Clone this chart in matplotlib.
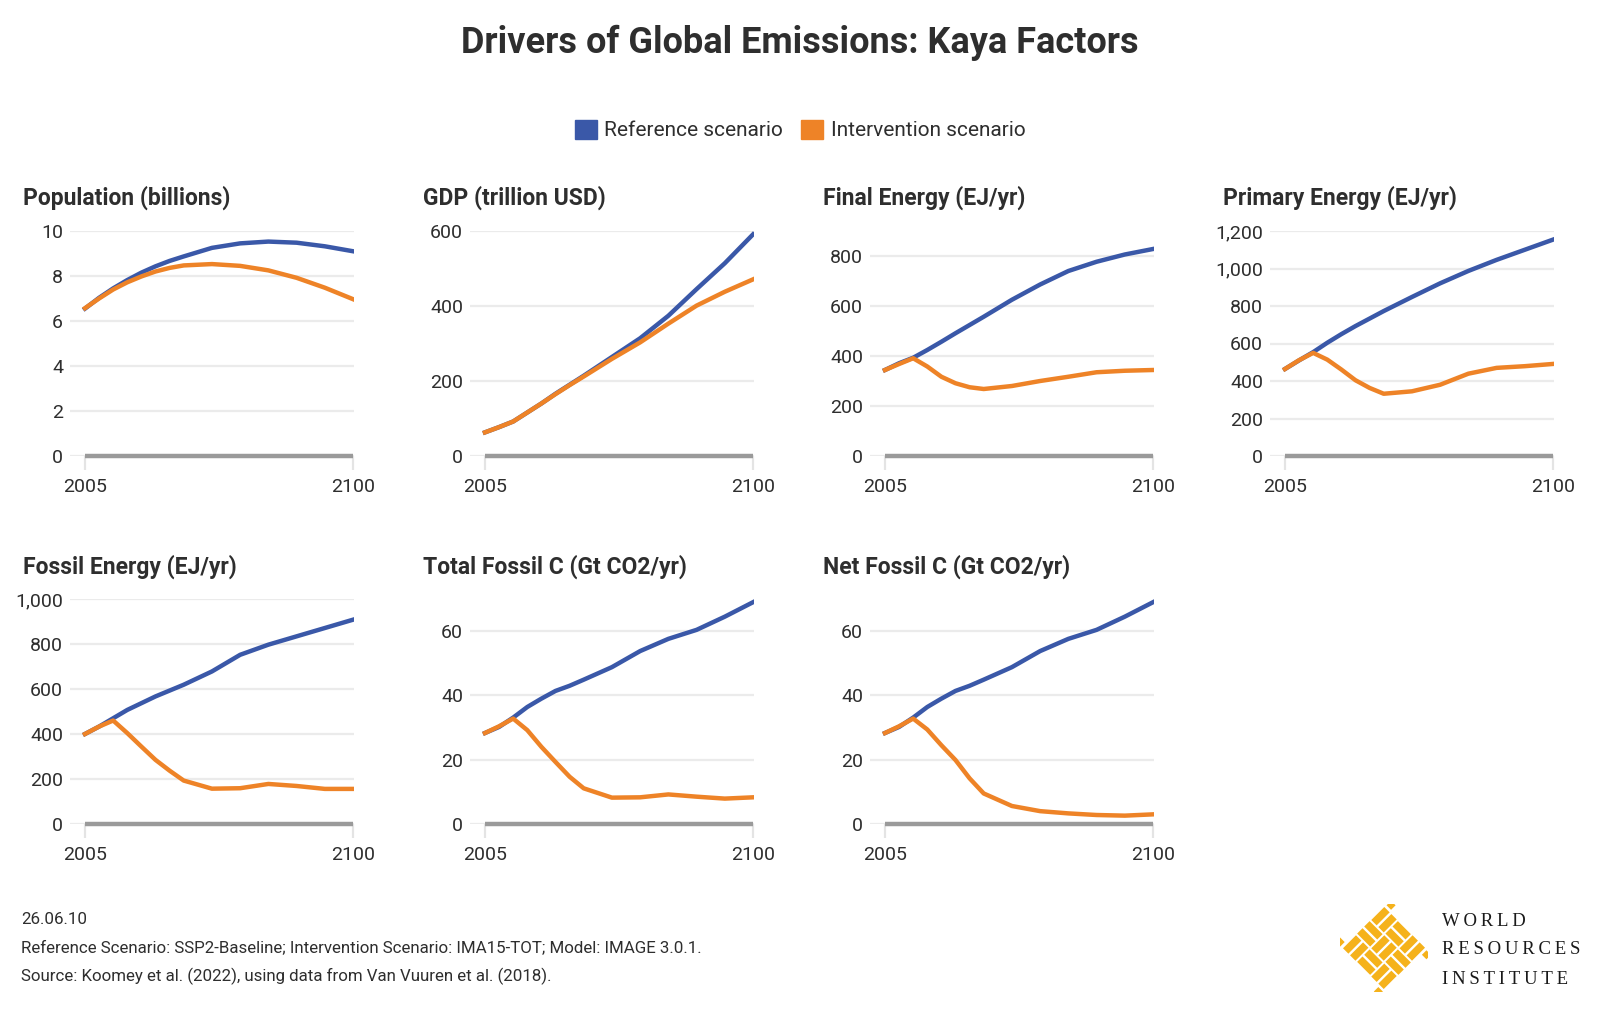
import matplotlib
matplotlib.use('Agg')
import matplotlib.pyplot as plt
import matplotlib.transforms as mtransforms
from matplotlib.patches import Patch, Rectangle
from matplotlib.ticker import FuncFormatter

plt.rcParams['font.family'] = ['Roboto', 'DejaVu Sans']

# ---- data ----
years = [2005, 2010, 2015, 2020, 2025, 2030, 2035, 2040, 2050, 2060, 2070, 2080, 2090, 2100]

pop_ref = [6.55, 7.03, 7.45, 7.82, 8.15, 8.43, 8.67, 8.87, 9.25, 9.45, 9.53, 9.48, 9.32, 9.1]
pop_int = [6.57, 7.0, 7.4, 7.72, 7.98, 8.2, 8.36, 8.47, 8.53, 8.45, 8.25, 7.92, 7.48, 6.97]

gdp_ref = [63, 77, 92, 116, 140, 166, 190, 214, 264, 314, 374, 445, 514, 591]
gdp_int = [63, 77, 92, 116, 140, 165, 189, 212, 259, 303, 353, 401, 438, 471]

final_ref = [344, 371, 393, 424, 457, 491, 524, 557, 625, 686, 740, 777, 806, 828]
final_int = [344, 368, 391, 358, 317, 291, 275, 268, 280, 300, 317, 335, 341, 344]

primary_ref = [464, 510, 554, 604, 650, 693, 733, 773, 848, 921, 987, 1046, 1100, 1154]
primary_int = [464, 511, 550, 514, 461, 404, 363, 332, 345, 380, 439, 470, 479, 491]

fossil_ref = [400, 433, 470, 507, 537, 567, 593, 619, 678, 752, 797, 834, 871, 908]
fossil_int = [400, 433, 460, 404, 344, 285, 237, 193, 157, 159, 178, 169, 156, 156]

totc_ref = [28.3, 30.2, 33.1, 36.4, 39.0, 41.4, 43.0, 44.9, 48.8, 53.8, 57.6, 60.4, 64.5, 69.0]
totc_int = [28.3, 30.4, 32.8, 29.2, 24.0, 19.3, 14.7, 11.1, 8.2, 8.3, 9.2, 8.5, 7.9, 8.3]

netc_ref = [28.3, 30.2, 33.1, 36.4, 39.0, 41.4, 43.0, 44.9, 48.8, 53.8, 57.6, 60.4, 64.5, 69.0]
netc_int = [28.3, 30.4, 32.8, 29.4, 24.5, 19.9, 14.2, 9.5, 5.6, 4.0, 3.3, 2.8, 2.6, 3.0]

titles = ['Population (billions)', 'GDP (trillion USD)', 'Final Energy (EJ/yr)',
          'Primary Energy (EJ/yr)', 'Fossil Energy (EJ/yr)', 'Total Fossil C (Gt CO2/yr)',
          'Net Fossil C (Gt CO2/yr)']
ref_series = [pop_ref, gdp_ref, final_ref, primary_ref, fossil_ref, totc_ref, netc_ref]
int_series = [pop_int, gdp_int, final_int, primary_int, fossil_int, totc_int, netc_int]
y_tops = [10, 600, 900, 1200, 1000, 70, 70]
y_ticks = [range(0, 11, 2), range(0, 601, 200), range(0, 801, 200), range(0, 1201, 200),
           range(0, 1001, 200), range(0, 61, 20), range(0, 61, 20)]

BLUE = '#3a58a8'
ORANGE = '#ee8327'
TXT = '#2e2e2e'

W, H = 1600, 1014
fig = plt.figure(figsize=(W / 100, H / 100), dpi=100)
fig.patch.set_facecolor('white')


def px_axes(x0, top, x1, bottom):
    return fig.add_axes([x0 / W, 1 - bottom / H, (x1 - x0) / W, (bottom - top) / H])


row_top = [231, 599]
row_bot = [456, 824]
title_y = [198, 567]

for i, name in enumerate(titles):
    r, c = divmod(i, 4)
    ax = px_axes(70 + 400 * c, row_top[r], 354 + 400 * c, row_bot[r])
    ax.plot(years, ref_series[i], color=BLUE, lw=3.2, solid_joinstyle='round', zorder=3)
    ax.plot(years, int_series[i], color=ORANGE, lw=3.2, solid_joinstyle='round', zorder=4)
    ax.hlines(0, years[0], years[-1], color='#9a9a9a', lw=3.2, zorder=2, clip_on=False)
    ax.set_xlim(1999.7, 2100.35)
    ax.set_ylim(0, y_tops[i])
    ax.set_yticks(list(y_ticks[i]))
    ax.yaxis.set_major_formatter(FuncFormatter(lambda v, p: f'{v:,.0f}'))
    ax.set_xticks([years[0], years[-1]])
    ax.set_xticklabels([str(years[0]), str(years[-1])])
    ax.grid(axis='y', color='#ebebeb', lw=1.6)
    ax.set_axisbelow(True)
    for s in ax.spines.values():
        s.set_visible(False)
    ax.tick_params(axis='y', length=0, pad=5, labelsize=14, labelcolor=TXT)
    ax.tick_params(axis='x', length=10, width=1.6, color='#e4e4e4', pad=6,
                   labelsize=14, labelcolor=TXT)
    ax.patch.set_alpha(0)
    fig.text((23 + 400 * c) / W, 1 - title_y[r] / H, name, fontsize=16.5,
             fontweight='bold', color=TXT, ha='left', va='center')

fig.text(0.5, 1 - 43 / H, 'Drivers of Global Emissions: Kaya Factors', fontsize=26,
         fontweight='bold', color=TXT, ha='center', va='center')

handles = [Patch(facecolor=BLUE, edgecolor=BLUE), Patch(facecolor=ORANGE, edgecolor=ORANGE)]
fig.legend(handles, ['Reference scenario', 'Intervention scenario'], loc='center',
           bbox_to_anchor=(0.5, 1 - 130 / H), ncol=2, frameon=False, fontsize=15,
           handlelength=1.05, handleheight=1.05, handletextpad=0.35, columnspacing=0.9,
           labelcolor=TXT)

notes = ['26.06.10',
         'Reference Scenario: SSP2-Baseline; Intervention Scenario: IMA15-TOT; Model: IMAGE 3.0.1.',
         'Source: Koomey et al. (2022), using data from Van Vuuren et al. (2018).']
for k, line in enumerate(notes):
    fig.text(21 / W, 1 - (920 + 28 * k) / H, line, fontsize=12.2, color=TXT,
             ha='left', va='center')

# WRI logo: woven diamond + wordmark
lax = fig.add_axes([1340 / W, 1 - 992 / H, 88 / W, 88 / H])
lax.set_xlim(-2.2, 2.2)
lax.set_ylim(-2.2, 2.2)
lax.set_aspect('equal')
lax.axis('off')
rot = mtransforms.Affine2D().rotate_deg(45) + lax.transData
gold = '#f5b21b'
cell = 1.0
for iu in range(3):
    for iv in range(3):
        x = -1.5 + iu * cell
        y = -1.5 + iv * cell
        if (iu + iv) % 2 == 0:
            bars = [(x + 0.04, y + 0.06, 0.92, 0.38), (x + 0.04, y + 0.56, 0.92, 0.38)]
        else:
            bars = [(x + 0.06, y + 0.04, 0.38, 0.92), (x + 0.56, y + 0.04, 0.38, 0.92)]
        for bx, by, bw, bh in bars:
            lax.add_patch(Rectangle((bx, by), bw, bh, facecolor=gold, edgecolor='none',
                                    transform=rot))
for sx, sy in [(-1.5, 1.6), (1.6, 1.1), (1.1, -1.9), (-1.9, -1.5)]:
    lax.add_patch(Rectangle((sx, sy), 0.32, 0.32, facecolor=gold, edgecolor='none',
                            transform=rot))

for k, word in enumerate(['WORLD', 'RESOURCES', 'INSTITUTE']):
    fig.text(1442 / W, 1 - (921 + 29 * k) / H, '\u2009'.join(word), fontsize=13.5,
             family=['Liberation Serif', 'DejaVu Serif'], color='#1a1a1a',
             ha='left', va='center')

fig.savefig('out.png', dpi=100)
